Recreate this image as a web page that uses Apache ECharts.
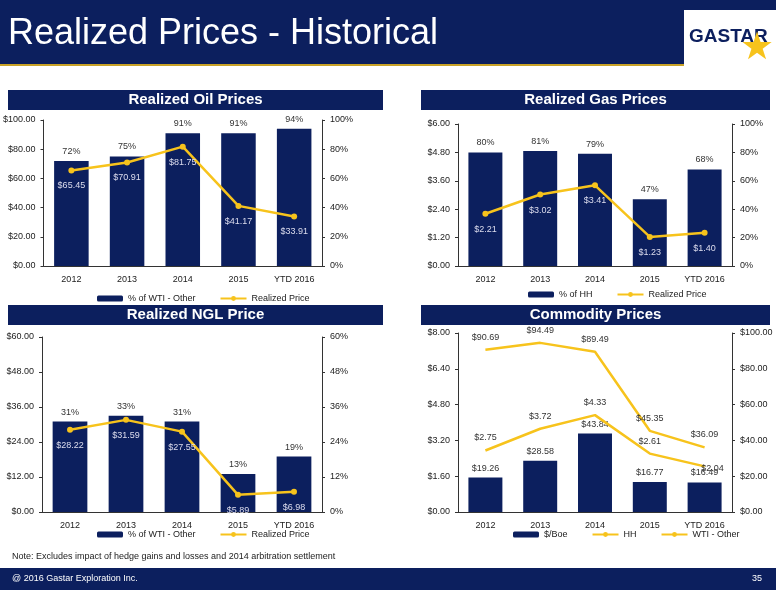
<!DOCTYPE html><html><head><meta charset="utf-8"><script src="https://cdn.jsdelivr.net/npm/echarts@6/dist/echarts.min.js"></script>
<style>body{margin:0}#c{width:776px;height:600px}</style></head><body><div id="c"></div><script>
const categories=['2012','2013','2014','2015','YTD 2016'];
const oilPct=[72,75,91,91,94];
const oilPrice=[65.45,70.91,81.75,41.17,33.91];
const gasPct=[80,81,79,47,68];
const gasPrice=[2.21,3.02,3.41,1.23,1.40];
const nglPct=[31,33,31,13,19];
const nglPrice=[28.22,31.59,27.55,5.89,6.98];
const boe=[19.26,28.58,43.84,16.77,16.49];
const hh=[2.75,3.72,4.33,2.61,2.04];
const wti=[90.69,94.49,89.49,45.35,36.09];
const NAVY='#0c1f5e',GOLD='#f7c31c',F='Liberation Sans, Arial, sans-serif';
const grids=[{left:42,right:454,top:120,height:146},{left:458,right:44,top:124,height:142},{left:42,right:454,top:337,height:175},{left:458,right:44,top:333,height:179}];
const ax=(fmt,max,gi,pos)=>({type:'value',gridIndex:gi,position:pos,min:0,max:max,interval:max/5,splitLine:{show:false},
 axisLine:{show:true,lineStyle:{color:'#333'}},axisTick:{show:true,length:3},axisLabel:{fontSize:9,fontFamily:F,color:'#222',formatter:fmt}});
const money=v=>'$'+v.toFixed(2);const pct=v=>v+'%';
const xAxis=grids.map((g,i)=>({type:'category',gridIndex:i,data:categories,axisLine:{lineStyle:{color:'#333'}},axisTick:{show:false},axisLabel:{fontSize:9,fontFamily:F,color:'#222',margin:9}}));
const yAxis=[ax(money,100,0,'left'),ax(pct,100,0,'right'),ax(money,6,1,'left'),ax(pct,100,1,'right'),
 ax(money,60,2,'left'),ax(pct,60,2,'right'),ax(money,8,3,'left'),ax(money,100,3,'right')];
const barS=(name,data,x,y,lab)=>({name,type:'bar',data,xAxisIndex:x,yAxisIndex:y,barWidth:'62%',itemStyle:{color:NAVY},
 label:{show:true,position:'top',fontSize:9,fontFamily:F,color:'#333',formatter:lab}});
const lineS=(name,data,x,y,lab,pos,color,sym)=>({name,type:'line',data,xAxisIndex:x,yAxisIndex:y,symbol:'circle',symbolSize:sym?6:0.01,
 itemStyle:{color:GOLD},lineStyle:{color:GOLD,width:2.5},label:{show:true,position:pos,distance:8,fontSize:9,fontFamily:F,color:color,formatter:lab}});
const pf=p=>p.value+'%',df=p=>'$'+(typeof p.value==='number'?p.value:p.data.value).toFixed(2);
const hhData=hh.map((v,i)=>i==4?{value:v,label:{position:'bottom',distance:-2,offset:[8,0]}}:v);
const series=[barS('% of WTI - Other',oilPct,0,1,pf),lineS('Realized Price',oilPrice,0,0,df,'bottom','#dde',true),
 barS('% of HH',gasPct,1,3,pf),lineS('Realized Price',gasPrice,1,2,df,'bottom','#dde',true),
 barS('% of WTI - Other',nglPct,2,5,pf),lineS('Realized Price',nglPrice,2,4,df,'bottom','#dde',true),
 barS('$/Boe',boe,3,7,df),lineS('HH',hhData,3,6,df,'top','#333',false),lineS('WTI - Other',wti,3,7,df,'top','#333',false)];
const leg=(data,left,top)=>({data,left,top,itemWidth:26,itemHeight:6,itemGap:24,textStyle:{fontSize:9,fontFamily:F,color:'#222'}});
const ptitle=(t,l,w,top)=>[{type:'rect',left:l,top:top,shape:{width:w,height:20},style:{fill:NAVY}},
 {type:'text',x:l+w/2,y:top+10,style:{text:t,align:'center',verticalAlign:'middle',fill:'#fff',font:'bold 15px '+F}}];
const opt={animation:false,grid:grids,xAxis,yAxis,series,
legend:[leg(['% of WTI - Other','Realized Price'],92,289),leg(['% of HH','Realized Price'],523,285),
 leg(['% of WTI - Other','Realized Price'],92,525),leg(['$/Boe','HH','WTI - Other'],508,525)],
graphic:[{type:'rect',left:0,top:0,shape:{width:776,height:64},style:{fill:NAVY}},
 {type:'rect',left:0,top:64,shape:{width:776,height:2},style:{fill:'#c9a227'}},
 {type:'text',left:8,top:16,style:{text:'Realized Prices - Historical',fill:'#fff',font:'36px '+F}},
 {type:'rect',left:684,top:10,shape:{width:92,height:56},style:{fill:'#fff'}},
 {type:'text',left:689,top:27,style:{text:'GASTAR',fill:NAVY,font:'bold 19px '+F}},
 {type:'text',left:740,top:30,style:{text:'★',fill:GOLD,font:'38px DejaVu Sans'}},
 ...ptitle('Realized Oil Prices',8,375,90),...ptitle('Realized Gas Prices',421,349,90),
 ...ptitle('Realized NGL Price',8,375,305),...ptitle('Commodity Prices',421,349,305),
 {type:'text',left:12,top:552,style:{text:'Note: Excludes impact of hedge gains and losses and 2014 arbitration settlement',fill:'#222',font:'9px '+F}},
 {type:'rect',left:0,top:568,shape:{width:776,height:22},style:{fill:NAVY}},
 {type:'text',left:12,top:574,style:{text:'@ 2016 Gastar Exploration Inc.',fill:'#fff',font:'9px '+F}},
 {type:'text',left:752,top:574,style:{text:'35',fill:'#fff',font:'9px '+F}}]};
const ch=echarts.init(document.getElementById('c'));ch.setOption(opt);
</script></body></html>
